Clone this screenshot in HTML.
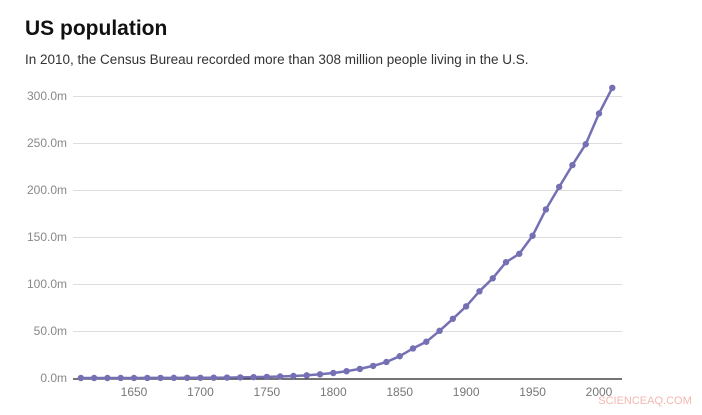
<!DOCTYPE html>
<html><head><meta charset="utf-8"><style>
body{margin:0;background:#fff;width:702px;height:410px;overflow:hidden;font-family:"Liberation Sans",sans-serif}
</style></head><body>
<svg width="702" height="410" xmlns="http://www.w3.org/2000/svg" font-family="Liberation Sans, sans-serif">
<text x="25" y="35" font-size="21" font-weight="bold" fill="#111">US population</text>
<text x="25" y="64" font-size="13.5" fill="#333">In 2010, the Census Bureau recorded more than 308 million people living in the U.S.</text>
<g id="grid" stroke="#ddd" stroke-width="1"></g>
<g id="yl" font-size="12" fill="#888" text-anchor="end"></g>
<line x1="73" x2="622" y1="379" y2="379" stroke="#222" stroke-width="1.2"/>
<g id="xl" font-size="12" fill="#777" text-anchor="middle"></g>
<polyline id="ln" fill="none" stroke="#7570b3" stroke-width="2.5" stroke-linejoin="round"/>
<g id="dots" fill="#7570b3"></g>
<text x="645" y="404" font-size="11" fill="#f2b8b0" text-anchor="middle">SCIENCEAQ.COM</text>
</svg>
<script>
var ns="http://www.w3.org/2000/svg";
function el(p,t,a,txt){var e=document.createElementNS(ns,t);for(var k in a)e.setAttribute(k,a[k]);if(txt)e.textContent=txt;document.getElementById(p).appendChild(e);}
for(var i=1;i<=6;i++){var y=378-i*47;el("grid","line",{x1:73,x2:622,y1:y+0.5,y2:y+0.5});}
for(var i=0;i<=6;i++){var y=378-i*47;el("yl","text",{x:67,y:y+4},(i*50).toFixed(1)+"m");}
for(var yr=1650;yr<=2000;yr+=50){el("xl","text",{x:134+(yr-1650)*1.3286,y:396},String(yr));}
var v=[0.00035,0.0025,0.0046,0.027,0.05,0.075,0.11,0.15,0.21,0.25,0.33,0.47,0.63,0.91,1.17,1.59,2.15,2.78,3.93,5.31,7.24,9.64,12.87,17.07,23.19,31.44,38.56,50.19,62.98,76.21,92.23,106.02,123.2,132.16,151.33,179.32,203.3,226.5,248.7,281.4,308.7];
var pts=[];
for(var i=0;i<v.length;i++){var x=134+(1610+i*10-1650)*1.3286,y=378-v[i]*0.94;pts.push(x.toFixed(1)+","+y.toFixed(1));el("dots","circle",{cx:x,cy:y,r:3.2});}
document.getElementById("ln").setAttribute("points",pts.join(" "));
</script>
</body></html>
